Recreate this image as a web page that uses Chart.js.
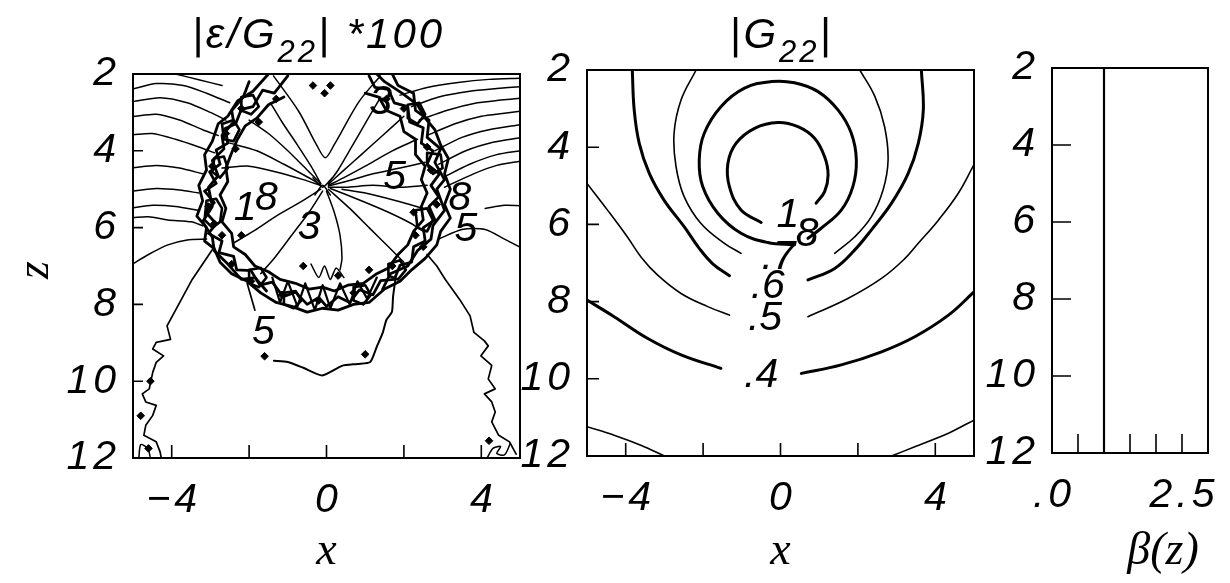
<!DOCTYPE html>
<html>
<head>
<meta charset="utf-8">
<script src="https://cdn.jsdelivr.net/npm/chart.js@4.4.1/dist/chart.umd.min.js"></script>
<style>
  html, body { margin: 0; padding: 0; background: #fff; }
  #wrap { position: relative; width: 1230px; height: 583px; }
  #wrap canvas { position: absolute; left: 0; top: 0; }
</style>
</head>
<body>
<div id="wrap">
  <canvas id="err" width="1230" height="583"></canvas>
  <canvas id="g22" width="1230" height="583"></canvas>
  <canvas id="beta" width="1230" height="583"></canvas>
</div>
<script>
// ---- axes ----
const Z_LABELS = [2, 4, 6, 8, 10, 12];
const Z_MARKS = [4, 6, 8, 10];
const X_MARKS = [-4, -2, 0, 2, 4];
const X_LABELS = [[-4, '\u22124'], [0, '0'], [4, '4']];
const BETA_MARKS = [0.5, 1, 1.5, 2, 2.5];
const BETA_LABELS = [[0, '.0'], [2.5, '2.5']];

// ---- beta(z) profile ----
const betaZ = [2, 12];
const betaValue = [1, 1];

// ---- |G22| contours, [x, z] ----
const g22Level10 = [[-0.50,5.95],[-1.02,5.63],[-1.32,5.02],[-1.36,4.42],[-1.15,3.90],[-0.67,3.51],[-0.07,3.36],[0.45,3.47],[0.88,3.77],[1.14,4.25],[1.23,4.72],[1.14,5.15],[0.92,5.45]];
const g22Level08 = [[0.36,6.53],[-0.33,6.47],[-1.02,6.23],[-1.62,5.71],[-2.01,5.02],[-2.10,4.33],[-1.97,3.64],[-1.54,2.95],[-0.93,2.47],[-0.24,2.30],[0.36,2.33],[0.97,2.56],[1.49,3.04],[1.83,3.64],[1.96,4.33],[1.87,5.02],[1.57,5.63],[1.05,6.10],[0.71,6.36]];
const g22Level07L = [[-2.18,2.0],[-2.57,2.78],[-2.75,3.64],[-2.70,4.50],[-2.49,5.28],[-2.06,5.97],[-1.45,6.49],[-1.02,6.75]];
const g22Level07R = [[2.05,2.0],[2.44,2.69],[2.69,3.47],[2.78,4.33],[2.65,5.11],[2.35,5.80],[1.92,6.32],[1.40,6.75]];
const g22Level06L = [[-3.83,2.0],[-3.78,3.04],[-3.65,3.90],[-3.39,4.68],[-3.01,5.37],[-2.49,6.06],[-2.10,6.62],[-1.75,7.02],[-1.32,7.33]];
const g22Level06R = [[3.64,2.0],[3.69,3.04],[3.56,3.90],[3.30,4.68],[2.87,5.45],[2.35,6.14],[1.92,6.66],[1.40,7.14],[0.71,7.44]];
const g22Level05L = [[-5.0,4.94],[-4.47,5.63],[-3.96,6.32],[-3.6,6.85],[-3.18,7.31],[-2.57,7.79],[-1.88,8.13],[-1.32,8.35]];
const g22Level05R = [[5.0,4.45],[4.59,5.20],[4.08,5.89],[3.56,6.49],[3.2,6.9],[2.61,7.40],[1.74,7.92],[0.71,8.39]];
const g22Level04L = [[-5.0,7.96],[-4.30,8.39],[-3.44,8.95],[-2.57,9.38],[-1.54,9.73]];
const g22Level04R = [[0.54,9.86],[1.57,9.64],[2.61,9.30],[3.47,8.91],[4.34,8.35],[5.0,7.75]];
const g22Level03L = [[-5.0,11.24],[-4.30,11.46],[-3.61,11.72],[-3.0,12.0]];
const g22Level03R = [[2.87,12.0],[3.47,11.76],[4.34,11.41],[5.0,11.07]];
const g22LabelText = ['1', '8', '.7', '.6', '.5', '.4'];
const g22LabelX = [0.19, 0.69, -0.05, -0.33, -0.40, -0.50];
const g22LabelZ = [5.78, 6.27, 6.85, 7.61, 8.43, 9.92];

// ---- |eps/G22|*100 contours, [x, z] ----
const errRingA = [[-1.0,2.05],[-1.35,2.5],[-1.65,2.42],[-1.9,2.85],[-2.2,2.92],[-2.35,3.3],[-2.62,3.42],[-2.55,3.8],[-2.85,3.98],[-2.75,4.35],[-3.02,4.55],[-2.85,4.85],[-3.15,5.05],[-2.9,5.35],[-3.12,5.6],[-2.85,5.9],[-3.05,6.15],[-2.7,6.35],[-2.78,6.65],[-2.4,6.75],[-2.32,7.1],[-1.95,7.12],[-1.72,7.5],[-1.4,7.42],[-1.12,7.8],[-0.8,7.68],[-0.5,8.0],[-0.2,7.82],[0.0,8.05],[0.3,7.8],[0.6,7.95],[0.85,7.62],[1.2,7.75],[1.4,7.38],[1.75,7.35],[1.9,6.98],[2.2,6.9],[2.25,6.5],[2.55,6.35],[2.5,6.0],[2.8,5.8],[2.65,5.45],[2.9,5.2],[2.7,4.9],[2.92,4.6],[2.6,4.35],[2.75,4.0],[2.45,3.8],[2.5,3.4],[2.15,3.25],[2.1,2.85],[1.75,2.75],[1.6,2.4],[1.25,2.35],[1.1,2.05]];
const errRingB = [[-1.1,2.6],[-1.5,2.8],[-1.8,3.15],[-2.1,3.35],[-2.3,3.7],[-2.45,4.05],[-2.6,4.45],[-2.55,4.8],[-2.75,5.15],[-2.6,5.5],[-2.7,5.85],[-2.45,6.15],[-2.4,6.5],[-2.1,6.7],[-1.85,7.0],[-1.5,7.15],[-1.2,7.35],[-0.8,7.45],[-0.45,7.6],[-0.1,7.55],[0.2,7.65],[0.55,7.5],[0.95,7.45],[1.3,7.2],[1.6,7.05],[1.85,6.7],[2.1,6.45],[2.25,6.1],[2.5,5.8],[2.45,5.45],[2.6,5.1],[2.45,4.75],[2.55,4.4],[2.3,4.1],[2.3,3.7],[2.0,3.5],[1.9,3.1],[1.55,2.95],[1.35,2.6],[1.0,2.5]];
const errRingC = [[-1.5,2.0],[-1.9,2.45],[-2.3,2.7],[-2.55,3.1],[-2.8,3.3],[-2.95,3.75],[-3.15,4.1],[-3.1,4.5],[-3.3,4.9],[-3.2,5.3],[-3.35,5.7],[-3.1,6.0],[-3.15,6.35],[-2.9,6.55],[-2.75,6.9],[-2.45,7.2],[-2.05,7.4],[-1.7,7.7],[-1.3,7.95],[-0.9,8.05],[-0.5,8.2],[-0.1,8.1],[0.3,8.15],[0.7,8.0],[1.1,7.95],[1.5,7.6],[1.9,7.4],[2.2,7.1],[2.55,6.8],[2.85,6.45],[2.95,6.1],[3.2,5.75],[3.05,5.4],[3.2,5.0],[3.05,4.6],[3.15,4.2],[2.95,3.85],[2.8,3.45],[2.55,3.15],[2.35,2.8],[1.95,2.5],[1.5,2.2],[1.3,2.0]];
const errRingD = [[-2.0,2.2],[-2.15,2.6],[-2.45,2.95],[-2.4,3.25],[-2.7,3.6],[-2.65,3.95],[-2.95,4.25],[-2.8,4.65],[-3.05,4.95],[-2.95,5.45],[-3.2,5.85],[-2.95,6.25],[-2.9,6.6],[-2.55,6.95],[-2.2,7.35],[-1.85,7.3],[-1.55,7.65]];
const errRingE = [[1.7,2.0],[1.85,2.3],[2.25,2.5],[2.3,2.95],[2.65,3.2],[2.6,3.65],[2.95,3.95],[2.8,4.3],[3.05,4.75],[2.85,5.0],[3.05,5.55],[2.75,5.95],[2.7,6.3],[2.35,6.6],[2.1,7.0],[1.65,7.2],[1.45,7.6]];
const errRingSpikes = [[-1.4,7.3],[-1.2,7.95],[-1.0,7.4],[-0.75,8.05],[-0.55,7.45],[-0.3,8.15],[-0.1,7.5],[0.1,8.1],[0.35,7.45],[0.6,8.0],[0.8,7.4],[1.05,7.85],[1.3,7.3]];
const errLoops = [
  [[-3.1,5.3],[-2.85,5.25],[-2.7,5.5],[-2.75,5.85],[-2.95,6.0],[-3.15,5.8],[-3.1,5.3]],
  [[-2.7,3.3],[-2.4,3.2],[-2.25,3.45],[-2.4,3.75],[-2.65,3.7],[-2.7,3.3]],
  [[-2.2,2.6],[-1.9,2.55],[-1.75,2.85],[-1.95,3.05],[-2.2,2.95],[-2.2,2.6]],
  [[2.1,2.8],[2.4,2.75],[2.55,3.05],[2.35,3.3],[2.1,3.15],[2.1,2.8]],
  [[2.6,4.05],[2.95,4.1],[3.0,4.45],[2.75,4.6],[2.6,4.35],[2.6,4.05]],
  [[2.3,5.55],[2.6,5.5],[2.75,5.8],[2.6,6.1],[2.35,6.0],[2.3,5.55]],
  [[1.6,6.95],[1.9,6.85],[2.05,7.1],[1.85,7.35],[1.6,7.25],[1.6,6.95]],
  [[-2.0,7.1],[-1.7,7.05],[-1.55,7.3],[-1.75,7.55],[-2.0,7.45],[-2.0,7.1]],
  [[-1.1,7.7],[-0.8,7.65],[-0.65,7.9],[-0.85,8.1],[-1.1,8.0],[-1.1,7.7]],
  [[0.7,7.55],[1.0,7.5],[1.15,7.75],[0.95,8.0],[0.7,7.9],[0.7,7.55]],
  [[-2.9,4.2],[-2.65,4.15],[-2.55,4.45],[-2.75,4.7],[-2.95,4.55],[-2.9,4.2]]
];
const errSpecks = [[-1.3,2.65],[-0.05,2.5],[0.1,2.3],[-0.35,2.3],[-1.75,3.25],[-2.35,3.95],[-2.95,4.4],[-3.05,5.45],[-2.7,6.2],[-2.45,6.95],[-1.15,7.75],[0.3,7.25],[1.1,7.1],[2.6,3.9],[2.85,5.4],[2.3,6.2],[1.7,7.0],[1.55,2.65],[2.25,5.6],[-0.6,7.0],[-2.2,6.2],[-1.6,9.35],[1.0,9.3],[-4.55,10.0],[-4.8,10.9],[-4.6,11.75],[4.2,11.55],[-2.6,3.55],[-2.9,5.9],[2.7,4.5],[2.5,6.5],[-0.2,7.9],[0.7,7.7],[-1.95,7.4],[-2.2,2.9],[2.0,2.9]];
const errEdgeLeft = [
  [[-5,2.39],[-4.4,2.25],[-3.7,2.3],[-3.1,2.5],[-2.5,2.75]],
  [[-5,2.72],[-4.3,2.62],[-3.6,2.75],[-3.0,3.0],[-2.6,3.2]],
  [[-5,3.11],[-4.4,3.05],[-3.8,3.2],[-3.2,3.45],[-2.8,3.6]],
  [[-5,3.58],[-4.5,3.55],[-3.9,3.7],[-3.3,3.9],[-2.9,4.05]],
  [[-5,4.44],[-4.4,4.38],[-3.8,4.45],[-3.2,4.6]],
  [[-5,5.05],[-4.4,4.98],[-3.8,5.02],[-3.3,5.1]],
  [[-5,5.48],[-4.5,5.42],[-3.9,5.45],[-3.3,5.55]],
  [[-5,5.74],[-4.6,5.72],[-4.1,5.8],[-3.5,5.85],[-3.2,5.95]],
  [[-5,6.94],[-4.6,6.7],[-4.1,6.45],[-3.6,6.32],[-3.1,6.3]],
  [[-3.9,2.0],[-3.3,2.15],[-2.7,2.3]]
];
const errEdgeRight = [
  [[1.9,2.55],[2.6,2.35],[3.4,2.22],[4.2,2.14],[5,2.11]],
  [[2.2,2.85],[2.9,2.6],[3.7,2.45],[4.4,2.38],[5,2.33]],
  [[2.4,3.2],[3.1,2.95],[3.9,2.75],[4.5,2.68],[5,2.63]],
  [[2.6,3.6],[3.3,3.3],[4.0,3.1],[4.6,3.02],[5,2.97]],
  [[2.8,4.0],[3.5,3.65],[4.2,3.45],[5,3.32]],
  [[2.9,4.35],[3.6,4.0],[4.3,3.78],[5,3.66]],
  [[3.0,4.7],[3.7,4.35],[4.4,4.1],[5,4.0]],
  [[3.05,4.95],[3.8,4.6],[4.4,4.38],[5,4.27]],
  [[4.1,5.5],[4.6,5.42],[5,5.43]],
  [[2.9,6.3],[3.5,6.05],[4.1,6.05],[4.6,6.3],[5,6.51]]
];
const errFanUpper = [
  [[-1.45,2.75],[-1.15,3.25],[-0.75,3.85],[-0.4,4.4],[-0.15,4.85]],
  [[-2.0,3.2],[-1.5,3.55],[-1.0,4.0],[-0.5,4.5],[-0.15,4.85]],
  [[-2.5,3.8],[-1.8,4.0],[-1.1,4.35],[-0.55,4.65],[-0.15,4.88]],
  [[-2.7,4.45],[-2.0,4.4],[-1.3,4.55],[-0.6,4.75],[-0.15,4.9]],
  [[1.4,2.6],[1.05,3.2],[0.65,3.9],[0.3,4.5],[0.05,4.85]],
  [[2.0,3.1],[1.45,3.6],[0.9,4.1],[0.4,4.55],[0.05,4.87]],
  [[2.35,3.7],[1.7,4.0],[1.0,4.4],[0.45,4.7],[0.05,4.9]],
  [[2.55,4.3],[1.9,4.45],[1.2,4.6],[0.5,4.8],[0.05,4.92]],
  [[2.6,4.9],[1.9,4.95],[1.2,4.9],[0.5,4.95],[0.05,4.95]],
  [[2.5,5.5],[1.8,5.3],[1.0,5.1],[0.4,5.0]]
];
const errValley = [[-1.37,2.05],[-0.72,2.97],[-0.26,3.84],[-0.03,4.18],[0.2,3.84],[0.84,2.72],[1.39,2.05]];
const errKnot = [
  [[-0.35,4.7],[-0.1,4.95],[0.15,4.7]],
  [[-0.3,5.15],[-0.1,4.9],[0.1,5.15]]
];
const errFanLower = [
  [[-0.15,5.0],[-0.7,5.35],[-1.3,5.7],[-1.9,6.1],[-2.4,6.4]],
  [[-0.1,5.05],[-0.45,5.6],[-0.9,6.2],[-1.35,6.8],[-1.7,7.2]],
  [[0.0,5.05],[0.2,5.6],[0.35,6.2],[0.4,6.8],[0.35,7.1]],
  [[0.05,5.0],[0.6,5.5],[1.1,6.0],[1.6,6.5],[2.0,6.9]],
  [[0.1,4.98],[0.9,5.3],[1.6,5.6],[2.2,5.9],[2.5,6.1]],
  [[-0.4,6.95],[-0.2,7.3],[-0.05,7.0],[0.1,7.35],[0.25,7.05],[0.45,7.3]]
];
const errOuterLeft = [[-2.9,6.5],[-3.2,6.95],[-3.47,7.35],[-3.84,8.04],[-4.12,8.56],[-4.03,8.91],[-4.40,8.99],[-4.49,9.16],[-4.21,9.34],[-4.40,9.51],[-4.49,9.77],[-4.58,10.2],[-4.76,10.33],[-4.67,10.54],[-4.40,10.63],[-4.49,10.89],[-4.67,11.15],[-4.72,11.41],[-4.40,11.58],[-4.30,11.84],[-4.26,12.05]];
const errOuterRight = [[2.6,6.7],[2.85,7.0],[3.07,7.35],[3.44,7.87],[3.71,8.30],[3.81,8.73],[4.08,8.95],[4.18,9.08],[3.99,9.34],[4.27,9.59],[4.18,9.94],[4.36,10.2],[4.08,10.33],[4.27,10.54],[4.36,10.8],[4.27,11.06],[4.45,11.41],[4.73,11.58],[4.82,11.75],[4.9,11.9]];
const errFiveLine = [[-1.36,9.47],[-1.0,9.5],[-0.6,9.65],[-0.11,9.85],[0.4,9.6],[0.8,9.55],[1.13,9.5],[1.3,9.1],[1.45,8.75],[1.55,8.4],[1.69,8.2],[1.72,7.8],[1.78,7.35]];
const errFiveUpper = [[-2.05,7.45],[-1.95,7.8],[-1.85,8.15]];
const errCorners = [
  [[-4.85,12.0],[-4.8,11.65],[-4.62,11.75],[-4.55,12.0]],
  [[4.15,12.0],[4.3,11.75],[4.5,11.7],[4.4,11.88],[4.6,11.92],[4.75,11.62]]
];
const errLabelText = ['1', '8', '3', '5', '8', '5', '5', '3'];
const errLabelX = [-2.1, -1.55, -0.45, 1.76, 3.45, 3.6, -1.63, 1.4];
const errLabelZ = [5.5, 5.25, 6.0, 4.7, 5.25, 6.05, 8.73, 2.75];

// ---- drawing helpers ----
const TICK_FONT = 'italic 41px "Liberation Sans"';
const TITLE_FONT = 'italic 42px "Liberation Sans"';
const SUB_FONT = 'italic 31px "Liberation Sans"';
const MATH_FONT = 'italic 46px "Liberation Serif"';
const toPts = arr => arr.map(([x, z]) => ({ x, y: z }));
const curve = (arr, width, tension) => ({
  data: toPts(arr), borderColor: '#000', borderWidth: width, tension: tension || 0,
  pointRadius: 0, fill: false, borderCapStyle: 'round', borderJoinStyle: 'round'
});

const decorPlugin = {
  id: 'decor',
  afterDraw(chart, args, o) {
    const { ctx, chartArea: a, scales: { x, y } } = chart;
    ctx.save();
    ctx.fillStyle = '#000';
    ctx.strokeStyle = '#000';
    // inline contour labels
    ctx.font = TICK_FONT;
    ctx.textAlign = 'center';
    ctx.textBaseline = 'middle';
    (o.marks ? o.marks.text : []).forEach((t, i) => {
      ctx.fillText(t, x.getPixelForValue(o.marks.x[i]), y.getPixelForValue(o.marks.z[i]));
    });
    // frame
    ctx.lineWidth = 2;
    ctx.strokeRect(a.left, a.top, a.right - a.left, a.bottom - a.top);
    // inward tick marks
    ctx.lineWidth = 1.6;
    ctx.beginPath();
    o.xMarks.forEach(v => { const p = x.getPixelForValue(v); ctx.moveTo(p, a.bottom); ctx.lineTo(p, a.bottom - o.xLen); });
    o.yMarks.forEach(v => { const p = y.getPixelForValue(v); ctx.moveTo(a.left, p); ctx.lineTo(a.left + o.yLen, p); });
    ctx.stroke();
    // tick labels
    ctx.font = TICK_FONT;
    ctx.letterSpacing = '4px';
    ctx.textAlign = 'center';
    o.xLabels.forEach(([v, t]) => ctx.fillText(t, x.getPixelForValue(v) + 2, a.bottom + 43));
    ctx.textAlign = 'right';
    o.yLabels.forEach(v => ctx.fillText(String(v), a.left - 13, y.getPixelForValue(v)));
    // panel title with subscript
    if (o.title) {
      ctx.letterSpacing = '3px';
      ctx.textAlign = 'left';
      ctx.textBaseline = 'alphabetic';
      let w = 0;
      o.title.forEach(([t, sub]) => { ctx.font = sub ? SUB_FONT : TITLE_FONT; w += ctx.measureText(t).width; });
      let px = (a.left + a.right) / 2 + o.titleShift - w / 2;
      o.title.forEach(([t, sub]) => {
        ctx.font = sub ? SUB_FONT : TITLE_FONT;
        ctx.fillText(t, px, sub ? 62 : 48);
        px += ctx.measureText(t).width;
      });
    }
    ctx.letterSpacing = '0px';
    // axis titles
    ctx.font = MATH_FONT;
    ctx.textAlign = 'center';
    ctx.textBaseline = 'alphabetic';
    ctx.fillText(o.xTitle, (a.left + a.right) / 2 + (o.xTitleShift || 0), 564);
    if (o.zTitle) {
      ctx.translate(36, 270);
      ctx.rotate(-Math.PI / 2);
      ctx.textBaseline = 'middle';
      ctx.fillText(o.zTitle, 0, 0);
    }
    ctx.restore();
  }
};

function panel(id, pad, xMin, xMax, datasets, decor) {
  return new Chart(document.getElementById(id), {
    type: 'line',
    data: { datasets },
    options: {
      responsive: false,
      animation: false,
      devicePixelRatio: 1,
      events: [],
      layout: { padding: pad },
      scales: {
        x: { type: 'linear', min: xMin, max: xMax, display: false },
        y: { type: 'linear', min: 2, max: 12, reverse: true, display: false }
      },
      plugins: { legend: { display: false }, tooltip: { enabled: false }, decor }
    },
    plugins: [decorPlugin]
  });
}

// ---- left panel: |eps/G22| * 100 ----
const errSets = [];
[errRingA, errRingB, errRingC, errRingD, errRingE].forEach(r => errSets.push(curve(r, 2.8)));
errLoops.forEach(l => errSets.push(curve(l, 2.6)));
errSets.push(curve(errRingSpikes, 2.2));
errEdgeLeft.concat(errEdgeRight, errFanUpper, errFanLower, errKnot, errCorners)
  .forEach(l => errSets.push(curve(l, 1.5, 0.25)));
errSets.push(curve(errValley, 1.5, 0.3));
errSets.push(curve(errOuterLeft, 1.7));
errSets.push(curve(errOuterRight, 1.7));
errSets.push(curve(errFiveLine, 2, 0.2));
errSets.push(curve(errFiveUpper, 1.7, 0.2));
errSets.push({
  data: toPts(errSpecks), showLine: false, pointStyle: 'rectRot', pointRadius: 3.8,
  pointBackgroundColor: '#000', pointBorderColor: '#000', borderColor: '#000'
});
panel('err', { left: 133, top: 74, right: 710, bottom: 125 }, -5, 5, errSets, {
  xMarks: X_MARKS, xLen: 13, yMarks: Z_MARKS, yLen: 10,
  xLabels: X_LABELS, yLabels: Z_LABELS,
  title: [['|\u03b5/G', false], ['22', true], ['| *100', false]], titleShift: -8,
  xTitle: 'x', zTitle: 'z',
  marks: { text: errLabelText, x: errLabelX, z: errLabelZ }
});

// ---- middle panel: |G22| ----
const g22Sets = [
  curve(g22Level10, 3, 0.4), curve(g22Level08, 3, 0.4),
  curve(g22Level07L, 1.6, 0.4), curve(g22Level07R, 1.6, 0.4),
  curve(g22Level06L, 3, 0.4), curve(g22Level06R, 3, 0.4),
  curve(g22Level05L, 1.6, 0.4), curve(g22Level05R, 1.6, 0.4),
  curve(g22Level04L, 3, 0.4), curve(g22Level04R, 3, 0.4),
  curve(g22Level03L, 1.6, 0.3), curve(g22Level03R, 1.6, 0.3)
];
panel('g22', { left: 587, top: 70, right: 256, bottom: 127 }, -5, 5, g22Sets, {
  xMarks: X_MARKS, xLen: 13, yMarks: Z_MARKS, yLen: 12,
  xLabels: X_LABELS, yLabels: Z_LABELS,
  title: [['|G', false], ['22', true], ['|', false]], titleShift: 1,
  xTitle: 'x',
  marks: { text: g22LabelText, x: g22LabelX, z: g22LabelZ }
});

// ---- right panel: beta(z) ----
const betaSets = [curve(betaValue.map((b, i) => [b, betaZ[i]]), 2.2)];
panel('beta', { left: 1052, top: 68, right: 22, bottom: 130 }, 0, 3, betaSets, {
  xMarks: BETA_MARKS, xLen: 19, yMarks: Z_MARKS, yLen: 19,
  xLabels: BETA_LABELS, yLabels: Z_LABELS,
  xTitle: '\u03b2(z)', xTitleShift: 33
});
</script>
</body>
</html>
